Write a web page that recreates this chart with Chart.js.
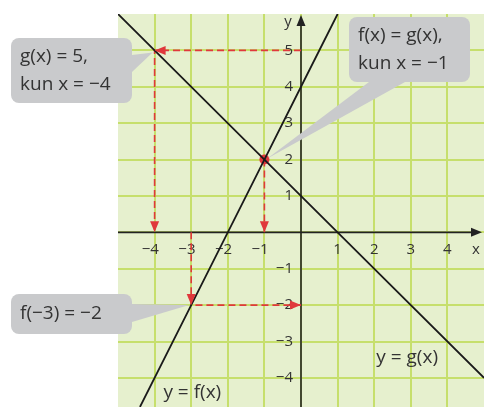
<!DOCTYPE html>
<html>
<head>
<meta charset="utf-8">
<script src="https://cdn.jsdelivr.net/npm/chart.js@4"></script>
<style>
  body { margin: 0; background: #fff; }
  #wrap { width: 484px; height: 407px; }
</style>
</head>
<body>
<div id="wrap"><canvas id="graphChart"></canvas></div>
<script>
const xTicks = [-4, -3, -2, -1, 1, 2, 3, 4];
const yTicks = [-4, -3, -2, -1, 1, 2, 3, 4, 5];

// y = f(x)
const fX = [-4.4, -3, -2, -1, 0, 1];
const fY = [-4.8, -2, 0, 2, 4, 6];
// y = g(x)
const gX = [-5, -4, -1, 1, 5];
const gY = [6, 5, 2, 0, -4];

// red dashed guides (arrow at every point after the first)
const guide1X = [0, -4, -4];
const guide1Y = [5, 5, 0];
const guide2X = [-1, -1];
const guide2Y = [2, 0];
const guide3X = [-3, -3, 0];
const guide3Y = [0, -2, -2];

const calloutTexts = [["g(x) = 5,", "kun x = \u22124"], ["f(x) = g(x),", "kun x = \u22121"], ["f(\u22123) = \u22122"]];
const calloutPoints = [[-4, 5], [-1, 2], [-3, -2]];
const lineLabels = ["y = f(x)", "y = g(x)"];

const FONT = '"Open Sans", sans-serif';
const toPts = (xs, ys) => xs.map((x, i) => ({x: x, y: ys[i]}));
const minus = v => (v < 0 ? '\u2212' + Math.abs(v) : String(v));

function arrowHead(c, x0, y0, x1, y1, color) {
    let a = Math.atan2(y1 - y0, x1 - x0);
    c.save();
    c.translate(x1, y1);
    c.rotate(a);
    c.fillStyle = color;
    c.beginPath();
    c.moveTo(0, 0);
    c.lineTo(-11, -4.5);
    c.lineTo(-11, 4.5);
    c.closePath();
    c.fill();
    c.restore();
}

const graphPlugin = {
    id: 'graphPlugin',
    beforeDraw(chart) {
        let c = chart.ctx, a = chart.chartArea;
        c.save();
        c.fillStyle = '#e6f0ce';
        c.fillRect(a.left, a.top, a.right - a.left, a.bottom - a.top);
        c.restore();
    },
    beforeDatasetsDraw(chart) {
        let c = chart.ctx, a = chart.chartArea;
        let xs = chart.scales.x, ys = chart.scales.y;
        let x0 = xs.getPixelForValue(0), y0 = ys.getPixelForValue(0);
        c.save();
        c.strokeStyle = '#222';
        c.lineWidth = 1.6;
        c.beginPath();
        c.moveTo(a.left, y0);
        c.lineTo(a.right - 10, y0);
        c.moveTo(x0, a.bottom);
        c.lineTo(x0, a.top + 8);
        c.stroke();
        arrowHead(c, a.left, y0, a.right - 2, y0, '#222');
        arrowHead(c, x0, a.bottom, x0, a.top + 1, '#222');

        c.fillStyle = '#333';
        c.font = '15px ' + FONT;
        c.textBaseline = 'middle';
        c.textAlign = 'right';
        let dw = c.measureText('4').width;
        xTicks.forEach(v => {
            c.fillText(minus(v), xs.getPixelForValue(v) + dw / 2, y0 + 17);
        });
        yTicks.forEach(v => {
            c.fillText(minus(v), x0 - 8, ys.getPixelForValue(v));
        });
        c.textAlign = 'center';
        c.fillText('x', a.right - 8, y0 + 17);
        c.fillText('y', x0 - 13, a.top + 8);
        c.restore();
    },
    afterDatasetsDraw(chart) {
        let c = chart.ctx;
        [2, 3, 4].forEach(di => {
            let pts = chart.getDatasetMeta(di).data;
            for (let i = 1; i < pts.length; i++) {
                arrowHead(c, pts[i - 1].x, pts[i - 1].y, pts[i].x, pts[i].y, '#e0383c');
            }
        });
    },
    afterDraw(chart) {
        let c = chart.ctx;
        let xs = chart.scales.x, ys = chart.scales.y;
        let tip = i => [xs.getPixelForValue(calloutPoints[i][0]), ys.getPixelForValue(calloutPoints[i][1])];
        let boxes = [
            {x: 11, y: 38, w: 121, h: 65, base: [[132, 55], [132, 72]], off: [-2, 2]},
            {x: 349, y: 17, w: 121, h: 65, base: [[369, 82], [405, 82]], off: [3, -1]},
            {x: 11, y: 294, w: 121, h: 40, base: [[132, 304], [132, 322]], off: [-2, 0]}
        ];
        c.save();
        c.fillStyle = '#c9cacc';
        boxes.forEach((b, i) => {
            let t = tip(i);
            c.beginPath();
            c.roundRect(b.x, b.y, b.w, b.h, 8);
            c.fill();
            c.beginPath();
            c.moveTo(b.base[0][0], b.base[0][1]);
            c.lineTo(t[0] + b.off[0], t[1] + b.off[1]);
            c.lineTo(b.base[1][0], b.base[1][1]);
            c.closePath();
            c.fill();
        });
        c.fillStyle = '#333';
        c.font = '19px ' + FONT;
        c.textBaseline = 'middle';
        c.textAlign = 'left';
        boxes.forEach((b, i) => {
            let lines = calloutTexts[i];
            let step = 28;
            let top = b.y + b.h / 2 - (lines.length - 1) * step / 2;
            lines.forEach((s, j) => c.fillText(s, b.x + 9, top + j * step));
        });
        c.textAlign = 'center';
        c.fillText(lineLabels[0], xs.getPixelForValue(-2.97), ys.getPixelForValue(-4.4));
        c.fillText(lineLabels[1], xs.getPixelForValue(2.9), ys.getPixelForValue(-3.44));
        c.restore();
    }
};

const guideStyle = {
    showLine: true,
    borderColor: '#e0383c',
    borderWidth: 1.6,
    borderDash: [7, 4],
    pointRadius: 0,
    fill: false
};

let ctx = document.getElementById('graphChart').getContext('2d');
new Chart(ctx, {
    type: 'scatter',
    data: {
        datasets: [
            {label: 'f', data: toPts(fX, fY), showLine: true, borderColor: '#1a1a1a', borderWidth: 1.8, pointRadius: 0},
            {label: 'g', data: toPts(gX, gY), showLine: true, borderColor: '#1a1a1a', borderWidth: 1.8, pointRadius: 0},
            Object.assign({label: 'g1', data: toPts(guide1X, guide1Y)}, guideStyle),
            Object.assign({label: 'g2', data: toPts(guide2X, guide2Y)}, guideStyle),
            Object.assign({label: 'g3', data: toPts(guide3X, guide3Y)}, guideStyle),
            {label: 'p', data: toPts([-1], [2]), pointRadius: 5, pointBackgroundColor: '#e0383c', pointBorderWidth: 0}
        ]
    },
    options: {
        responsive: true,
        maintainAspectRatio: false,
        animation: false,
        layout: {autoPadding: false, padding: {left: 118, top: 14, right: 0, bottom: 0}},
        plugins: {legend: {display: false}, tooltip: {enabled: false}},
        scales: {
            x: {
                type: 'linear', min: -5, max: 5,
                ticks: {display: false, stepSize: 1},
                border: {display: false},
                grid: {
                    drawTicks: false, lineWidth: 2,
                    color: c => (Number.isInteger(c.tick.value) && Math.abs(c.tick.value) < 5 ? '#c6df6c' : 'rgba(0,0,0,0)')
                }
            },
            y: {
                type: 'linear', min: -4.8, max: 6,
                ticks: {display: false, stepSize: 1},
                border: {display: false},
                grid: {
                    drawTicks: false, lineWidth: 2,
                    color: c => (Number.isInteger(c.tick.value) && c.tick.value < 6 ? '#c6df6c' : 'rgba(0,0,0,0)')
                }
            }
        }
    },
    plugins: [graphPlugin]
});
</script>
</body>
</html>
